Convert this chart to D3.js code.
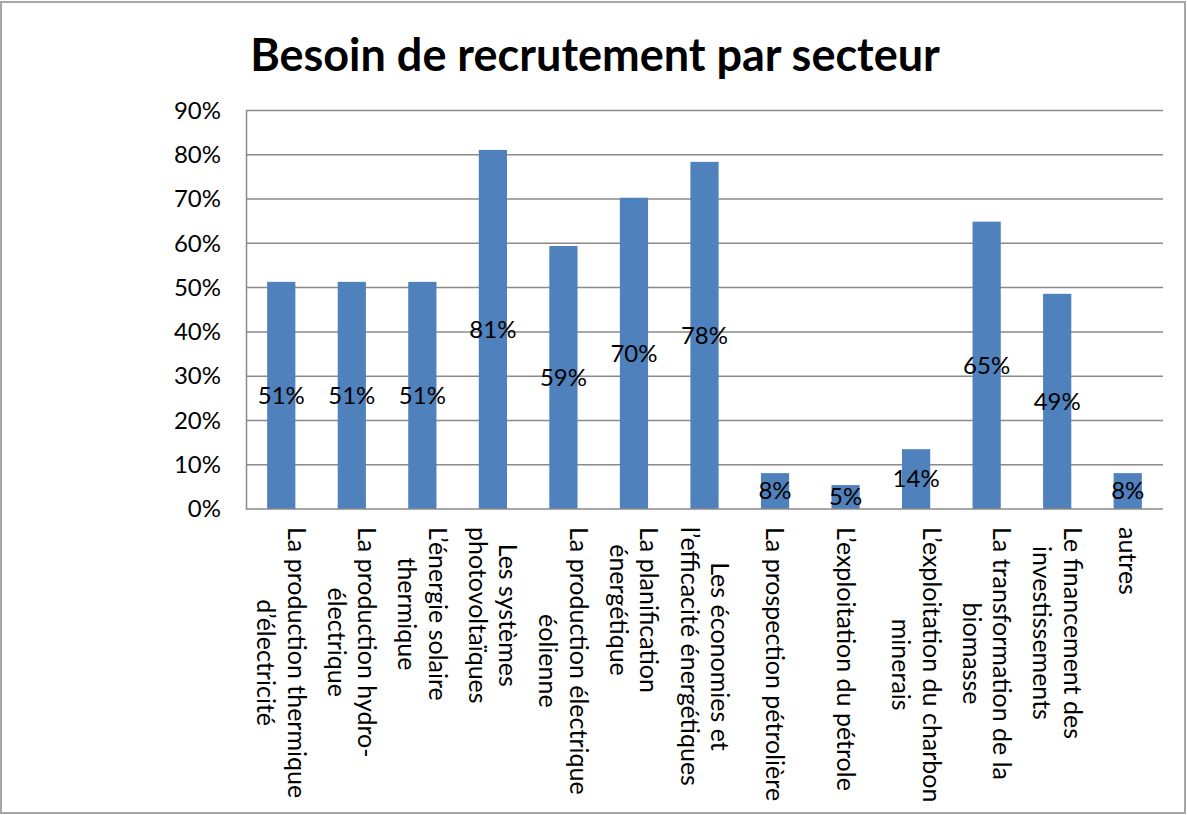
<!DOCTYPE html>
<html>
<head>
<meta charset="utf-8">
<script src="https://cdn.jsdelivr.net/npm/d3@7"></script>
<style>
  html, body { margin: 0; padding: 0; background: #fff; }
  svg { display: block; }
</style>
</head>
<body>
<svg id="chart" width="1187" height="815"></svg>
<script>
const title = "Besoin de recrutement par secteur";
const categories = [
  ["La production thermique", "d’électricité"],
  ["La production hydro-", "électrique"],
  ["L’énergie solaire", "thermique"],
  ["Les systèmes", "photovoltaïques"],
  ["La production électrique", "éolienne"],
  ["La planification", "énergétique"],
  ["Les économies et", "l’efficacité énergétiques"],
  ["La prospection pétrolière"],
  ["L’exploitation du pétrole"],
  ["L’exploitation du charbon", "minerais"],
  ["La transformation de la", "biomasse"],
  ["Le financement des", "investissements"],
  ["autres"]
];
const values = [0.513, 0.513, 0.513, 0.811, 0.594, 0.703, 0.784, 0.081, 0.054, 0.1351, 0.649, 0.486, 0.081];
const yTicks = [0, 0.1, 0.2, 0.3, 0.4, 0.5, 0.6, 0.7, 0.8, 0.9];

const FONT = "Lato, 'Open Sans', sans-serif";
const W = 1187, H = 815;
const plot = { left: 246, right: 1163, top: 110.5, bottom: 509 };
const svg = d3.select("#chart");

// outer border
svg.append("rect").attr("x", 1).attr("y", 2).attr("width", W - 3).attr("height", H - 4)
  .attr("fill", "#fff").attr("stroke", "#a6a6a6").attr("stroke-width", 2);

const x = d3.scaleBand().domain(d3.range(categories.length))
  .range([plot.left, plot.right]).paddingInner(0.6).paddingOuter(0.3);
const xc = d3.scaleBand().domain(d3.range(categories.length)).range([plot.left, plot.right]);
const y = d3.scaleLinear().domain([0, 0.9]).range([plot.bottom, plot.top]);

// gridlines
svg.append("g").selectAll("line").data(yTicks.slice(1)).join("line")
  .attr("x1", plot.left).attr("x2", plot.right)
  .attr("y1", d => y(d)).attr("y2", d => y(d))
  .attr("stroke", "#8a8a8a").attr("stroke-width", 1.5);

// y axis via d3
const yAxis = d3.axisLeft(y).tickValues(yTicks).tickFormat(d3.format(".0%")).tickSize(0).tickPadding(25);
const gy = svg.append("g").attr("transform", `translate(${plot.left},0)`).call(yAxis);
gy.select(".domain").attr("stroke", "#8a8a8a").attr("stroke-width", 1.5);
gy.selectAll("text").attr("font-family", FONT).attr("font-size", 24).attr("fill", "#000");

// bars
svg.append("g").selectAll("rect").data(values).join("rect")
  .attr("x", (d, i) => x(i)).attr("width", x.bandwidth())
  .attr("y", d => y(d)).attr("height", d => y(0) - y(d))
  .attr("fill", "#4f81bd");

// baseline
svg.append("line").attr("x1", plot.left).attr("x2", plot.right)
  .attr("y1", y(0)).attr("y2", y(0)).attr("stroke", "#8a8a8a").attr("stroke-width", 1.5);

// value labels
svg.append("g").selectAll("text").data(values).join("text")
  .attr("x", (d, i) => x(i) + x.bandwidth() / 2)
  .attr("y", d => (y(d) + y(0)) / 2)
  .attr("dy", "0.35em")
  .attr("text-anchor", "middle")
  .attr("font-family", FONT).attr("font-size", 24).attr("fill", "#000")
  .text(d => Math.round(d * 100) + "%");

// category labels (rotated 90deg, top-aligned, lines centered)
const lh = 30.5;
const labelTop = 527;
categories.forEach((lines, i) => {
  const cx = xc(i) + xc.bandwidth() / 2;
  const g = svg.append("g").attr("transform", `translate(${cx},${labelTop}) rotate(90)`);
  const t = g.selectAll("text").data(lines).join("text")
    .attr("font-family", FONT).attr("font-size", 25).attr("fill", "#000")
    .attr("text-anchor", "middle")
    .attr("y", (d, k) => (k - (lines.length - 1) / 2) * lh)
    .attr("dy", "0.35em")
    .text(d => d);
  let maxW = 0;
  t.each(function () { maxW = Math.max(maxW, this.getComputedTextLength()); });
  t.attr("x", maxW / 2);
});

// title
svg.append("text").attr("x", 595).attr("y", 71)
  .attr("text-anchor", "middle")
  .attr("font-family", FONT).attr("font-weight", "bold").attr("font-size", 45)
  .attr("fill", "#000").text(title);
</script>
</body>
</html>
